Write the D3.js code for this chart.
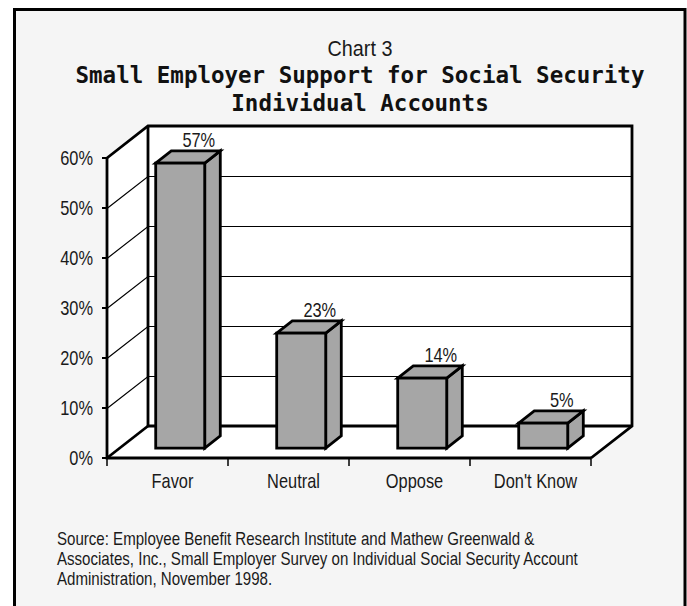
<!DOCTYPE html>
<html><head><meta charset="utf-8">
<script src="https://cdn.jsdelivr.net/npm/d3@7"></script>
<style>
html,body{margin:0;padding:0;background:#fff;}
svg{display:block;}
</style>
</head><body>
<svg id="chart" width="687" height="606"></svg>
<script>
const categories = ["Favor", "Neutral", "Oppose", "Don't Know"];
const values = [0.57, 0.23, 0.14, 0.05];
const valueLabels = ["57%", "23%", "14%", "5%"];
const yTicks = [0, 0.1, 0.2, 0.3, 0.4, 0.5, 0.6];
const subtitle = "Chart 3";
const titleLines = ["Small Employer Support for Social Security", "Individual Accounts"];
const sourceLines = [
  "Source: Employee Benefit Research Institute and Mathew Greenwald &",
  "Associates, Inc., Small Employer Survey on Individual Social Security Account",
  "Administration, November 1998."
];

const svg = d3.select("#chart");
const SQ = 0.82; // horizontal condensing (Arial Narrow look)

// condensed text helper
function ntext(parent, xx, yy, txt, size, anchor, dy, sq) {
  const gg = parent.append("g").attr("transform", `translate(${xx},${yy}) scale(${sq || SQ},1)`);
  const t = gg.append("text").attr("x",0).attr("y",0)
    .attr("text-anchor", anchor || "start")
    .attr("font-family","'Liberation Sans',Arial,sans-serif")
    .attr("font-size", size).attr("fill","#1a1a1a").text(txt);
  if (dy) t.attr("dy", dy);
  return t;
}

// frame
svg.append("rect").attr("x",14.5).attr("y",9.5).attr("width",670.5).attr("height",600)
  .attr("fill","#f5f5f5").attr("stroke","#000").attr("stroke-width",3);

// scales
const x = d3.scaleBand().domain(categories).range([107, 591]);
const y = d3.scaleLinear().domain([0, 0.6]).range([458, 158]);
const DX = 41, DY = -32;       // depth of the plot box
const F0 = 0.31, F1 = 0.69;    // bar depth fraction front/back
const barFrac = 0.405;

const x0 = x.range()[0], x1 = x.range()[1];
const yb = y(0), yt = y(0.6);

const g = svg.append("g");
const line = d3.line();

// side wall
g.append("path").attr("d", line([[x0,yb],[x0+DX,yb+DY],[x0+DX,yt+DY],[x0,yt]])+"Z")
  .attr("fill","#fff");
// back wall
g.append("path").attr("d", line([[x0+DX,yb+DY],[x1+DX,yb+DY],[x1+DX,yt+DY],[x0+DX,yt+DY]])+"Z")
  .attr("fill","#fff");
// floor
g.append("path").attr("d", line([[x0,yb],[x1,yb],[x1+DX,yb+DY],[x0+DX,yb+DY]])+"Z")
  .attr("fill","#fff");

// gridlines
yTicks.filter(t => t > 0 && t < 0.6).forEach(t => {
  g.append("path").attr("d", line([[x0, y(t)+0.5],[x0+DX, y(t)+DY+0.5],[x1+DX, y(t)+DY+0.5]]))
    .attr("fill","none").attr("stroke","#000").attr("stroke-width",1.2);
});

// heavy outlines
const heavy = (pts) => g.append("path").attr("d", line(pts)).attr("fill","none")
  .attr("stroke","#000").attr("stroke-width",2.8).attr("stroke-linejoin","miter");
heavy([[x0,yt],[x0+DX,yt+DY],[x1+DX,yt+DY],[x1+DX,yb+DY],[x1,yb]]);
heavy([[x0+DX,yt+DY],[x0+DX,yb+DY],[x1+DX,yb+DY]]);
heavy([[x0,yb],[x0+DX,yb+DY]]);
heavy([[x0,yt],[x0,yb],[x1,yb]]);

// y axis ticks & labels
yTicks.forEach(t => {
  g.append("line").attr("x1",x0-5).attr("x2",x0).attr("y1",y(t)).attr("y2",y(t))
    .attr("stroke","#000").attr("stroke-width",2);
  ntext(g, 93, y(t), d3.format(".0%")(t), 20, "end", "0.36em");
});

// x ticks
const bounds = categories.map(c => x(c)).concat([x1]);
bounds.forEach(bx => {
  g.append("line").attr("x1",bx).attr("x2",bx).attr("y1",yb).attr("y2",yb+8)
    .attr("stroke","#000").attr("stroke-width",1.5);
});
categories.forEach(c => {
  ntext(g, x(c)+x.bandwidth()/2 + 5, 488, c, 20, "middle");
});

// bars
const bw = x.bandwidth()*barFrac;
categories.forEach((c, i) => {
  const cx = x(c) + x.bandwidth()/2;
  const fx = cx - bw/2 + DX*F0, fy0 = yb + DY*F0, fy1 = y(values[i]) + DY*F0;
  const ox = DX*(F1-F0), oy = DY*(F1-F0);
  const bar = g.append("g").attr("fill","#a6a6a6").attr("stroke","#000")
    .attr("stroke-width",2.8).attr("stroke-linejoin","miter");
  bar.append("path").attr("d", line([[fx+bw,fy0],[fx+bw+ox,fy0+oy],[fx+bw+ox,fy1+oy],[fx+bw,fy1]])+"Z");
  bar.append("path").attr("d", line([[fx,fy1],[fx+bw,fy1],[fx+bw+ox,fy1+oy],[fx+ox,fy1+oy]])+"Z");
  bar.append("path").attr("d", line([[fx,fy0],[fx+bw,fy0],[fx+bw,fy1],[fx,fy1]])+"Z");
  ntext(g, cx + DX*F1 + 3, y(values[i]) + DY*F1 - 4, valueLabels[i], 20, "middle");
});

// titles
ntext(svg, 360, 56, subtitle, 22, "middle", null, 0.9);
titleLines.forEach((t, i) => {
  svg.append("text").attr("x",360).attr("y",83 + i*28).attr("text-anchor","middle")
    .attr("font-family","'DejaVu Sans Mono',monospace").attr("font-weight","bold")
    .attr("font-size",22.5).attr("fill","#111").text(t);
});

// source
sourceLines.forEach((t, i) => {
  ntext(svg, 57, 545 + i*20, t, 18.5, "start", null, 0.815);
});
</script>
</body></html>
